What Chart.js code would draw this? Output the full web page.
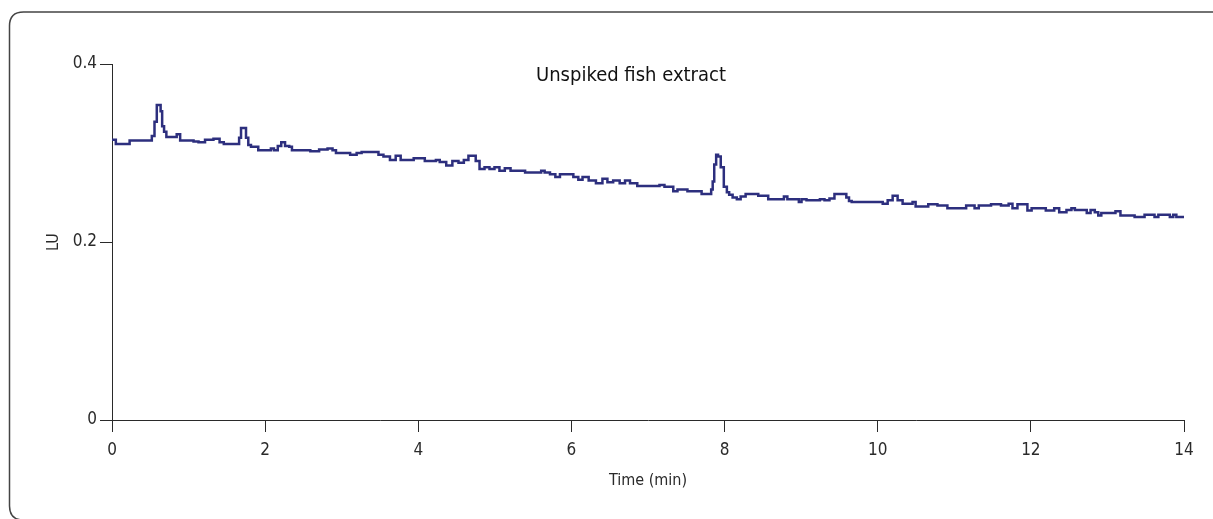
<!DOCTYPE html>
<html>
<head>
<meta charset="utf-8">
<script src="https://cdn.jsdelivr.net/npm/chart.js@4.4.1/dist/chart.umd.min.js"></script>
<style>
  html, body { margin: 0; padding: 0; background: #fff; overflow: hidden; }
  #wrap { width: 1213px; height: 519px; }
</style>
</head>
<body>
<div id="wrap"><canvas id="c" width="1213" height="519"></canvas></div>
<script>
// ---- data ----
const chartTitle = "Unspiked fish extract";
const xAxisTitle = "Time (min)";
const yAxisTitle = "LU";
const xTickValues = [0, 2, 4, 6, 8, 10, 12, 14];
const yTickValues = [0, 0.2, 0.4];

const timeMin = [
  0.00, 0.10, 0.20, 0.26, 0.50, 0.54, 0.57, 0.60, 0.63, 0.64, 0.67, 0.69, 0.73, 0.84, 0.85, 0.93,
  1.02, 1.11, 1.15, 1.28, 1.37, 1.44, 1.48, 1.65, 1.67, 1.70, 1.74, 1.76, 1.80, 1.83, 1.89, 1.93,
  2.06, 2.09, 2.14, 2.19, 2.23, 2.29, 2.34, 2.36, 2.55, 2.63, 2.78, 2.85, 2.91, 2.94, 3.07, 3.15,
  3.24, 3.28, 3.46, 3.50, 3.59, 3.67, 3.74, 3.80, 3.92, 3.96, 4.06, 4.11, 4.22, 4.24, 4.32, 4.41,
  4.48, 4.57, 4.62, 4.69, 4.73, 4.77, 4.83, 4.90, 4.96, 5.03, 5.09, 5.17, 5.24, 5.37, 5.42, 5.59,
  5.62, 5.68, 5.76, 5.82, 5.88, 5.98, 6.07, 6.11, 6.18, 6.27, 6.37, 6.44, 6.50, 6.59, 6.67, 6.73,
  6.80, 6.92, 7.12, 7.18, 7.25, 7.31, 7.35, 7.42, 7.48, 7.55, 7.68, 7.72, 7.81, 7.84, 7.85, 7.88,
  7.90, 7.93, 7.97, 8.01, 8.05, 8.07, 8.14, 8.18, 8.24, 8.31, 8.42, 8.46, 8.55, 8.59, 8.76, 8.79,
  8.85, 8.95, 8.99, 9.02, 9.12, 9.22, 9.27, 9.34, 9.40, 9.47, 9.57, 9.61, 9.64, 9.68, 10.03, 10.10,
  10.16, 10.23, 10.29, 10.36, 10.45, 10.46, 10.53, 10.64, 10.68, 10.75, 10.81, 10.90, 10.92, 11.14, 11.17, 11.23,
  11.30, 11.34, 11.47, 11.49, 11.60, 11.62, 11.69, 11.73, 11.79, 11.86, 11.92, 11.99, 12.03, 12.18, 12.21, 12.29,
  12.32, 12.42, 12.51, 12.55, 12.60, 12.71, 12.75, 12.81, 12.86, 12.90, 12.94, 13.07, 13.14, 13.20, 13.33, 13.38,
  13.46, 13.51, 13.59, 13.64, 13.69, 13.79, 13.84, 13.88, 13.92, 14.00
];
const luSignal = [
  0.315, 0.310, 0.310, 0.314, 0.314, 0.319, 0.335, 0.354, 0.354, 0.347, 0.330, 0.324, 0.318, 0.318, 0.321, 0.314,
  0.314, 0.313, 0.312, 0.315, 0.316, 0.312, 0.310, 0.310, 0.317, 0.328, 0.328, 0.317, 0.309, 0.307, 0.307, 0.303,
  0.303, 0.305, 0.303, 0.308, 0.312, 0.308, 0.307, 0.303, 0.303, 0.302, 0.304, 0.305, 0.303, 0.300, 0.300, 0.298,
  0.300, 0.301, 0.301, 0.298, 0.296, 0.292, 0.297, 0.292, 0.292, 0.294, 0.294, 0.291, 0.291, 0.292, 0.290, 0.286,
  0.291, 0.289, 0.292, 0.297, 0.297, 0.291, 0.282, 0.284, 0.282, 0.284, 0.280, 0.283, 0.280, 0.280, 0.278, 0.278,
  0.280, 0.278, 0.276, 0.273, 0.276, 0.276, 0.273, 0.270, 0.273, 0.269, 0.266, 0.271, 0.267, 0.269, 0.266, 0.269,
  0.266, 0.263, 0.263, 0.264, 0.262, 0.262, 0.257, 0.259, 0.259, 0.257, 0.257, 0.254, 0.254, 0.259, 0.268, 0.287,
  0.298, 0.296, 0.284, 0.262, 0.256, 0.253, 0.250, 0.248, 0.251, 0.254, 0.254, 0.252, 0.252, 0.248, 0.248, 0.251,
  0.248, 0.248, 0.245, 0.248, 0.247, 0.247, 0.248, 0.247, 0.249, 0.254, 0.254, 0.250, 0.246, 0.245, 0.245, 0.243,
  0.247, 0.252, 0.247, 0.243, 0.243, 0.245, 0.240, 0.240, 0.2425, 0.2425, 0.241, 0.241, 0.238, 0.238, 0.241, 0.241,
  0.238, 0.241, 0.241, 0.2425, 0.2425, 0.241, 0.241, 0.243, 0.238, 0.2425, 0.2425, 0.2355, 0.238, 0.238, 0.2355, 0.2355,
  0.238, 0.2335, 0.236, 0.238, 0.236, 0.236, 0.2325, 0.236, 0.2335, 0.2297, 0.2325, 0.2325, 0.2345, 0.2297, 0.2297, 0.228,
  0.228, 0.2305, 0.2305, 0.228, 0.2305, 0.2305, 0.228, 0.2305, 0.228, 0.228
];

// ---- styling ----
const FONT = "'DejaVu Sans Condensed', 'Liberation Sans Narrow', 'Roboto Condensed', sans-serif";
const INK = '#2a2a2a';
const LINE = '#2d2f7e';

const points = timeMin.map((t, i) => ({ x: t, y: luSignal[i] }));

const framePlugin = {
  id: 'frame',
  beforeDraw(chart) {
    const ctx = chart.ctx;
    ctx.save();
    ctx.fillStyle = '#ffffff';
    ctx.fillRect(0, 0, chart.width, chart.height);
    ctx.strokeStyle = '#444444';
    ctx.lineWidth = 1.5;
    const x = 9.5, y = 12, bottom = 520, r = 14;
    ctx.beginPath();
    ctx.moveTo(chart.width + 10, y);
    ctx.lineTo(x + r, y);
    ctx.quadraticCurveTo(x, y, x, y + r);
    ctx.lineTo(x, bottom - r);
    ctx.quadraticCurveTo(x, bottom, x + r, bottom);
    ctx.stroke();
    ctx.restore();
  },
  afterDraw(chart) {
    const ctx = chart.ctx;
    ctx.save();
    ctx.fillStyle = '#111111';
    ctx.font = '20px ' + FONT;
    ctx.textAlign = 'center';
    ctx.textBaseline = 'middle';
    ctx.fillText(chartTitle, 631, 76);
    ctx.restore();
  }
};

new Chart(document.getElementById('c'), {
  type: 'line',
  data: {
    datasets: [{
      data: points,
      borderColor: LINE,
      borderWidth: 2.5,
      pointRadius: 0,
      stepped: 'middle',
      fill: false
    }]
  },
  options: {
    responsive: false,
    animation: false,
    events: [],
    layout: { padding: { left: 0, top: 64, right: 29, bottom: 0 } },
    plugins: { legend: { display: false }, tooltip: { enabled: false }, title: { display: false } },
    scales: {
      x: {
        type: 'linear',
        min: xTickValues[0],
        max: xTickValues[xTickValues.length - 1],
        afterBuildTicks(scale) { scale.ticks = xTickValues.map(v => ({ value: v })); },
        afterFit(scale) { scale.height = 99; },
        grid: { drawOnChartArea: false, drawTicks: true, tickLength: 12, color: INK, lineWidth: 1 },
        border: { display: true, color: INK, width: 1 },
        ticks: { color: INK, font: { family: FONT, size: 17 }, padding: 8, maxRotation: 0, autoSkip: false,
                 callback: v => String(v) },
        title: { display: true, text: xAxisTitle, color: INK, font: { family: FONT, size: 16 },
                 padding: { top: 0, bottom: 29 } }
      },
      y: {
        type: 'linear',
        min: yTickValues[0],
        max: yTickValues[yTickValues.length - 1],
        afterBuildTicks(scale) { scale.ticks = yTickValues.map(v => ({ value: v })); },
        afterFit(scale) { scale.width = 112; },
        grid: { drawOnChartArea: false, drawTicks: true, tickLength: 12, color: INK, lineWidth: 1 },
        border: { display: true, color: INK, width: 1 },
        ticks: { color: INK, font: { family: FONT, size: 17 }, padding: 3, autoSkip: false,
                 callback: v => (v === 0 ? '0' : String(v)) },
        title: { display: true, text: yAxisTitle, color: INK, font: { family: FONT, size: 16 },
                 padding: { top: 44, bottom: 0 } }
      }
    }
  },
  plugins: [framePlugin]
});
</script>
</body>
</html>
